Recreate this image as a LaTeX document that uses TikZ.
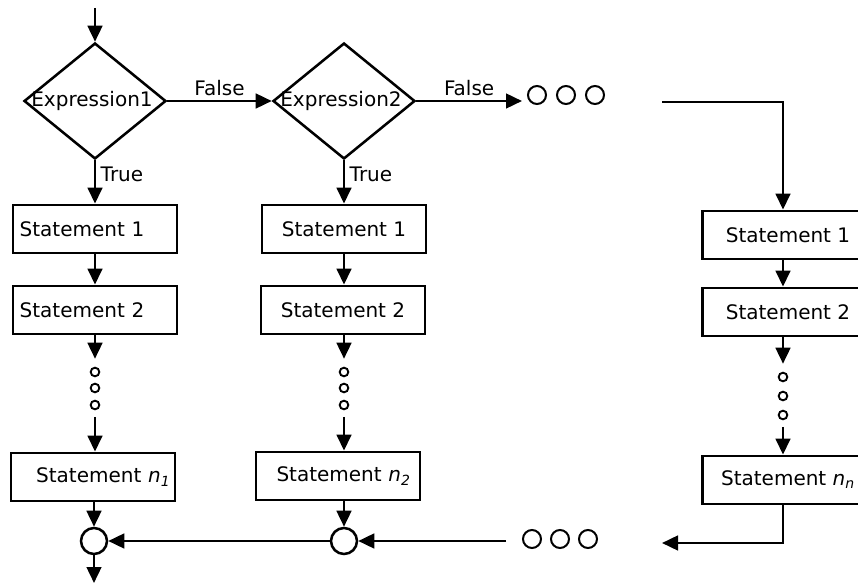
\documentclass[tikz,border=0pt]{standalone}
\usepackage{fontspec}
\setmainfont{DejaVu Sans}
\usetikzlibrary{shapes.geometric,arrows.meta}

\newcommand{\stn}[1]{Statement {\itshape n}\textsubscript{\itshape #1}}

\begin{document}
\begin{tikzpicture}[x=0.75pt,y=-0.75pt,line width=1.9pt,
    font=\fontsize{15}{18}\selectfont,
    arr/.style={-{Triangle[length=12pt,width=11pt]}},
    decision/.style={diamond,draw,inner sep=0pt,minimum width=106.5pt,minimum height=87pt},
    stmt/.style={rectangle,draw,line width=2.1pt,inner sep=0pt,minimum width=123pt,minimum height=36pt},
    tostart/.style={align=left,text width=113pt,inner xsep=5pt},
    toend/.style={align=right,text width=#1,inner xsep=3.5pt},
    tiny/.style={circle,draw,line width=1.4pt,inner sep=0pt,minimum size=6.5pt},
    more/.style={circle,draw,line width=1.5pt,inner sep=0pt,minimum size=13.5pt},
    junc/.style={circle,draw,inner sep=0pt,minimum size=19.5pt}]
  \useasboundingbox (0,0) rectangle (858,588);

  % the two tests
  \coordinate (in) at (95,8);
  \node[decision] (e1) at (95,101) {};
  \node (e1t) at (92,101) {Expression1};
  \node[decision] (e2) at (344,101) {};
  \node (e2t) at (341,101) {Expression2};
  \draw[arr] (in) -- (e1.north);
  \draw[arr] (e1.east) -- (e2.west) node[midway,above] {False};
  \coordinate (f2) at (522,101);
  \draw[arr] (e2.east) -- (f2) node[midway,above] {False};
  \foreach \i/\x in {1/537,2/566,3/595}
    \node[more] (tm\i) at (\x,95) {};

  % statement columns
  \node[stmt,tostart] (s11) at (95,229) {Statement 1};
  \node[stmt,tostart] (s12) at (95,310) {Statement 2};
  \node[stmt,toend=116pt] (s1n) at (93,477) {\stn{1}};
  \node[stmt] (s21) at (344,229) {Statement 1};
  \node[stmt] (s22) at (343,310) {Statement 2};
  \node[stmt,toend=109pt] (s2n) at (338,476) {\stn{2}};
  \node[stmt,minimum width=128pt] (s31) at (788,235) {Statement 1};
  \node[stmt,minimum width=128pt] (s32) at (788,312) {Statement 2};
  \node[stmt,minimum width=128pt] (s3n) at (788,480) {\stn{n}};

  \draw[arr] (e1.south) -- (s11.north) node[pos=0.33,right] {True};
  \draw[arr] (e2.south) -- (s21.north) node[pos=0.33,right] {True};
  \coordinate (t0) at (662,102);
  \coordinate (t1) at (783,102);
  \draw[arr] (t0) -- (t1) -- (t1 |- s31.north);

  \draw[arr] (s11) -- (s12);
  \draw[arr] (s21.south -| e2) -- (s22.north -| e2);
  \draw[arr] (s31.south -| t1) -- (s32.north -| t1);

  % the dotted parts
  \foreach \i/\y in {1/372,2/388,3/405} {
    \node[tiny] (a\i) at (95,\y) {};
    \node[tiny] (b\i) at (344,\y) {};
  }
  \foreach \i/\y in {1/377,2/396,3/415}
    \node[tiny] (c\i) at (783,\y) {};
  \draw[arr,shorten >=6pt] (s12.south) -- (a1.north);
  \draw[arr,shorten >=6pt] (s22.south -| b1) -- (b1.north);
  \draw[arr,shorten >=6pt] (s32.south -| c1) -- (c1.north);
  \draw[arr,shorten <=5pt] (a3.south) -- (s1n.north -| a3);
  \draw[arr,shorten <=5pt] (b3.south) -- (s2n.north -| b3);
  \draw[arr,shorten <=5pt] (c3.south) -- (s3n.north -| c3);

  % joining back
  \node[junc] (j1) at (94,541) {};
  \node[junc] (j2) at (344,541) {};
  \coordinate (out) at (94,583);
  \draw[arr] (s1n.south -| j1) -- (j1.north);
  \draw[arr] (s2n.south -| j2) -- (j2.north);
  \draw[arr] (j2.west) -- (j1.east);
  \draw[arr] (j1.south) -- (out);
  \coordinate (b1) at (506,541);
  \draw[arr] (b1) -- (j2.east);
  \foreach \i/\x in {1/532,2/560,3/588}
    \node[more] (bm\i) at (\x,539) {};
  \coordinate (b0) at (662,543);
  \draw[arr] (s3n.south -| c3) |- (b0);
\end{tikzpicture}
\end{document}
